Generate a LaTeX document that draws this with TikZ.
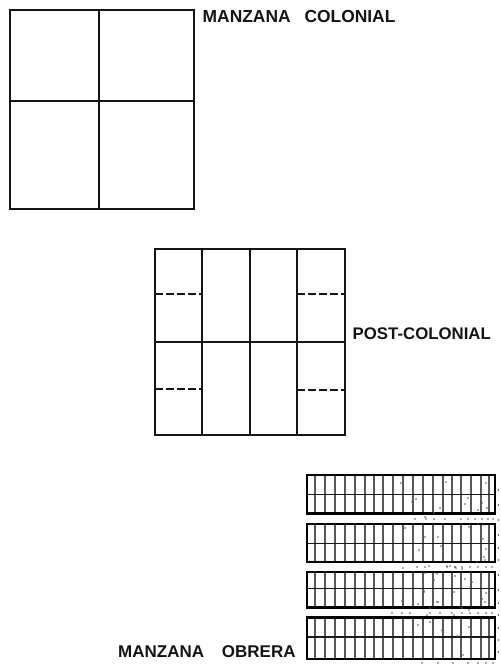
\documentclass[tikz,border=0pt]{standalone}
\usepackage{fontspec}
\setmainfont{Liberation Sans}
\tikzset{
  x=1bp,y=-1bp,
  wall/.style={draw=black!92,line width=2bp},
  lot/.style={draw=black!65,line width=2bp},
  lotmid/.style={draw=black!90,line width=1.5bp},
  strip/.style={draw=black,line width=2.4bp},
  split/.style={draw=black!92,line width=2bp,dash pattern=on 8bp off 3bp},
  lbl/.style={font=\bfseries\fontsize{17.4bp}{18bp}\selectfont,text=black!92,inner sep=0pt,anchor=west}
}
\newcommand{\obrerastrip}[3]{% top, mid, bottom
  \foreach \vx in {315,325,335,345,355,365,374,383,393,403,413,423,433,443,452,461,471,481,489}
    {\draw[lot] (\vx,#1) -- (\vx,#3);}
  \draw[lotmid] (307,#2) -- (495,#2);
  \draw[strip] (307,#1) rectangle (495,#3);
}
\newcommand{\speck}[2]{\fill[black!65] (#1,#2) circle (0.8bp);}
\begin{document}
\begin{tikzpicture}
\useasboundingbox (0,0) rectangle (501,666);
\fill[white] (0,0) rectangle (501,666);
% Manzana colonial
\draw[wall] (9.5,10) rectangle (193.5,208.5);
\draw[wall] (98.5,10) -- (98.5,208.5);
\draw[wall] (9.5,101) -- (193.5,101);
\node[lbl] (colonial) at (202.5,17) {MANZANA\hspace{0.8em}COLONIAL};
% Post-colonial
\draw[wall] (154.5,248.5) rectangle (344.5,434.5);
\foreach \vx in {202,249.5,296.5} {\draw[wall] (\vx,248.5) -- (\vx,434.5);}
\draw[wall] (154.5,341.5) -- (344.5,341.5);
\draw[split] (155,293.5) -- (202,293.5);
\draw[split] (297,293.5) -- (344,293.5);
\draw[split] (155,388.5) -- (202,388.5);
\draw[split] (297,390) -- (344,390);
\node[lbl,font=\bfseries\fontsize{16.8bp}{18bp}\selectfont] (post) at (352.5,333.5) {POST-COLONIAL};
% Manzana obrera
\obrerastrip{475}{494.5}{513.5}
\obrerastrip{524}{543.5}{562}
\obrerastrip{572}{588.5}{607.5}
\obrerastrip{617.5}{637}{659}
\node[lbl,font=\bfseries\fontsize{17bp}{18bp}\selectfont] (obrera) at (118,651.5) {MANZANA\hspace{1.05em}OBRERA};
% scan specks
\foreach \sx in {415,426,434,445,461,468,475,482,488,493} {\speck{\sx}{519}}
\foreach \sx in {417,425,447,455,462,470,478,486,492} {\speck{\sx}{567}}
\foreach \sx in {392,402,410,430,440,452,462,470,478,486,492} {\speck{\sx}{613}}
\foreach \sx in {422,438,453,468,478,486,493} {\speck{\sx}{663}}
\foreach \sy in {490,505,520,535,548,560,575,590,603,615,628,640,652} {\speck{498.5}{\sy}}
\pgfmathsetseed{11}
\foreach \i in {1,...,70}{
  \pgfmathsetmacro{\sx}{400+random(0,92)}
  \pgfmathsetmacro{\sy}{478+random(0,178)}
  \speck{\sx}{\sy}
}
\end{tikzpicture}
\end{document}
